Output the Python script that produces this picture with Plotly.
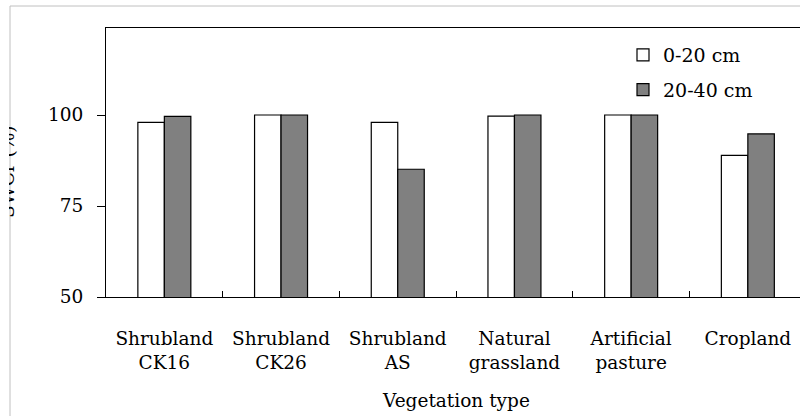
import plotly.graph_objects as go

categories = ["Shrubland<br>CK16", "Shrubland<br>CK26", "Shrubland<br>AS",
              "Natural<br>grassland", "Artificial<br>pasture", "Cropland"]
swc_0_20 = [98.0, 100.0, 98.0, 99.7, 100.0, 88.9]
swc_20_40 = [99.6, 100.0, 85.1, 100.0, 100.0, 94.8]
series_names = ["0-20 cm", "20-40 cm"]
y_ticks = [50, 75, 100]

FONT = "DejaVu Serif"

W, H = 800, 416
L, R, T, B = 106, 0, 28, 119
pw = W - L - R
ph = H - T - B

def px2x(px):
    return (px - L) / pw

def py2y(py):
    return 1 - (py - T) / ph

fig = go.Figure()
fig.add_trace(go.Bar(x=categories, y=swc_0_20, name=series_names[0],
                     marker=dict(color="white", line=dict(color="black", width=1.2)),
                     legendgroup="a"))
fig.add_trace(go.Bar(x=categories, y=swc_20_40, name=series_names[1],
                     marker=dict(color="#808080", line=dict(color="black", width=1.2)),
                     legendgroup="b"))

shapes = [
    dict(type="line", xref="paper", yref="paper", x0=px2x(10), x1=px2x(10),
         y0=py2y(430), y1=py2y(6), line=dict(color="#c0c0c0", width=1)),
    dict(type="line", xref="paper", yref="paper", x0=px2x(10), x1=px2x(810),
         y0=py2y(6), y1=py2y(6), line=dict(color="#c0c0c0", width=1)),
]

annotations = [
    dict(text="Vegetation type", xref="paper", yref="paper",
         x=px2x(456), y=py2y(400), xanchor="center", yanchor="middle",
         showarrow=False, font=dict(family=FONT, size=18.5, color="black")),
    dict(text="SWCr (%)", xref="paper", yref="paper", textangle=-90,
         x=px2x(7), y=py2y(172), xanchor="center", yanchor="middle",
         showarrow=False, font=dict(family=FONT, size=18.5, color="black")),
    dict(text=" ", xref="paper", yref="paper", x=px2x(-1), y=py2y(200),
         xanchor="left", yanchor="middle", width=10, height=200,
         bgcolor="white", showarrow=False, borderpad=0, borderwidth=0),
]

fig.update_layout(
    width=W, height=H,
    margin=dict(l=L, r=R, t=T, b=B, pad=0),
    paper_bgcolor="white", plot_bgcolor="white",
    barmode="group", bargap=0.546, bargroupgap=0,
    font=dict(family=FONT, size=18.5, color="black"),
    showlegend=True,
    legend=dict(x=px2x(623), y=py2y(36), xanchor="left", yanchor="top",
                bgcolor="rgba(0,0,0,0)", traceorder="grouped", tracegroupgap=7,
                font=dict(family=FONT, size=19, color="black")),
    shapes=shapes,
    annotations=annotations,
)

fig.update_xaxes(range=[-0.5, -0.5 + pw / 116.7], showline=True, linecolor="black",
                 linewidth=1.2, mirror=True, ticks="inside", tickson="boundaries",
                 ticklen=6, tickcolor="black", showgrid=False, zeroline=False,
                 tickfont=dict(family=FONT, size=18.5, color="black"),
                 ticklabelstandoff=25)
fig.update_yaxes(range=[50, 50 + ph / 91 * 25], showline=True, linecolor="black",
                 linewidth=1.2, mirror=False, ticks="outside", ticklen=8,
                 tickcolor="black", tickvals=y_ticks, showgrid=False, zeroline=False,
                 tickfont=dict(family=FONT, size=18.5, color="black"),
                 ticklabelstandoff=10)

fig.write_html("out.html", config={"displayModeBar": False},
               post_script="document.body.style.margin='0px';document.body.style.overflow='hidden';")
